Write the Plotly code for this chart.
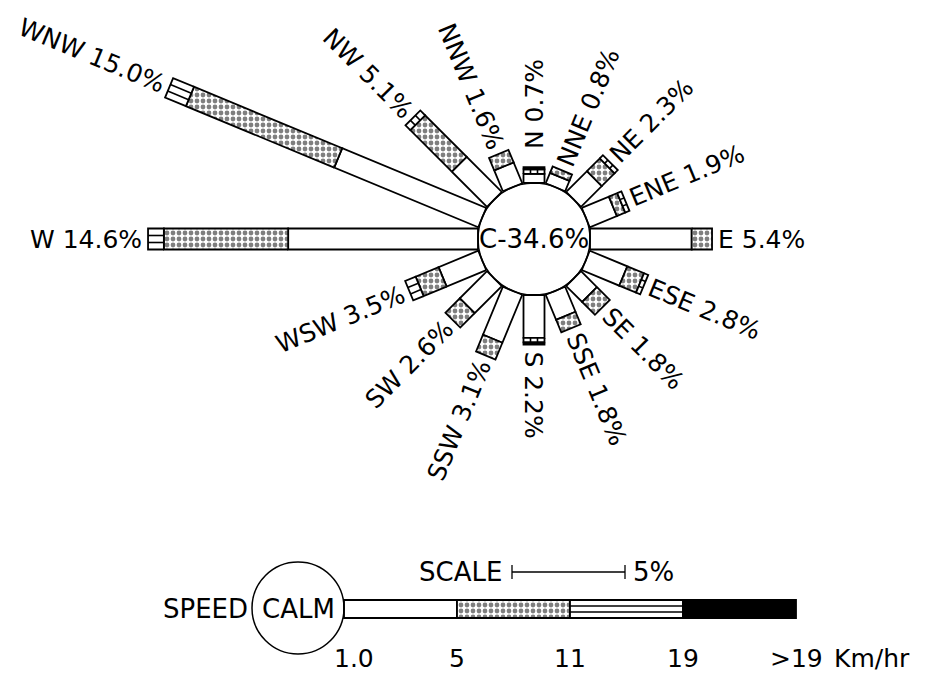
import numpy as np
import plotly.graph_objects as go

# ---------------- data ----------------
directions = ["N", "NNE", "NE", "ENE", "E", "ESE", "SE", "SSE",
              "S", "SSW", "SW", "WSW", "W", "WNW", "NW", "NNW"]
compass_deg = [0, 22.5, 45, 67.5, 90, 112.5, 135, 157.5,
               180, 202.5, 225, 247.5, 270, 292.5, 315, 337.5]
total_pct = [0.7, 0.8, 2.3, 1.9, 5.4, 2.8, 1.8, 1.8,
             2.2, 3.1, 2.6, 3.5, 14.6, 15.0, 5.1, 1.6]
# frequency (%) by speed class
spd_1_5 = [0.4, 0.5, 1.3, 1.3, 4.5, 1.8, 1.0, 1.2,
           1.9, 2.3, 1.7, 1.9, 8.4, 6.9, 2.2, 1.0]
spd_5_11 = [0.0, 0.3, 0.8, 0.4, 0.9, 0.8, 0.8, 0.6,
            0.0, 0.8, 0.9, 1.1, 5.5, 7.1, 2.6, 0.6]
spd_11_19 = [0.2, 0.0, 0.2, 0.2, 0.0, 0.2, 0.0, 0.0,
             0.2, 0.0, 0.0, 0.5, 0.7, 1.0, 0.3, 0.0]
spd_gt19 = [0.1, 0.0, 0.0, 0.0, 0.0, 0.0, 0.0, 0.0,
            0.1, 0.0, 0.0, 0.0, 0.0, 0.0, 0.0, 0.0]
calm_pct = 34.6
speed_ticks = ["1.0", "5", "11", "19", ">19"]
speed_unit = "Km/hr"
scale_pct = 5

# ---------------- geometry (1 data unit = 1 %) ----------------
OFF = 8                   # page body margin in the browser
W, H = 928 - OFF, 680 - OFF
PX = 22.6                 # pixels per percent
CX, CY = 534, 239         # rose centre in (screen) pixels
R = 56 / PX               # calm circle radius
HW = 10.5 / PX            # half bar width
FONT = "DejaVu Sans"
FS_LAB = 25
FS = 26

def ux(px):
    return (px - CX) / PX

def uy(py):
    return (CY - py) / PX

CHAR_W = {' ': 0.318, '.': 0.318, '%': 0.950, '-': 0.361, 'N': 0.748,
          'E': 0.632, 'S': 0.635, 'W': 0.989, 'C': 0.698}

def text_len(s, size):
    return sum(CHAR_W.get(c, 0.636) for c in s) * size

def seg_poly(theta, r0, r1, hw):
    u = np.array([np.cos(theta), np.sin(theta)])
    n = np.array([-np.sin(theta), np.cos(theta)])
    pts = [u * r0 + n * hw, u * r1 + n * hw, u * r1 - n * hw, u * r0 - n * hw, u * r0 + n * hw]
    return [p[0] for p in pts], [p[1] for p in pts]

classes = [("white", spd_1_5), ("dot", spd_5_11), ("stripe", spd_11_19), ("black", spd_gt19)]
polys = {k: ([], []) for k, _ in classes}
stripe_lines = ([], [])

for i, d in enumerate(directions):
    th = np.deg2rad(90 - compass_deg[i])
    r = R
    for key, arr in classes:
        v = arr[i]
        if v <= 0:
            continue
        xs, ys = seg_poly(th, r, r + v, HW)
        polys[key][0].extend(xs + [None])
        polys[key][1].extend(ys + [None])
        if key == "stripe":
            u = np.array([np.cos(th), np.sin(th)])
            n = np.array([-np.sin(th), np.cos(th)])
            for f in (-1 / 3, 1 / 3):
                a = u * r + n * HW * f
                b = u * (r + v) + n * HW * f
                stripe_lines[0].extend([a[0], b[0], None])
                stripe_lines[1].extend([a[1], b[1], None])
        r += v

# ---------------- legend bar ----------------
LEG_Y = uy(609)
LEG_HW = 9 / PX
CALM_C = (ux(298), uy(608))
CALM_R = 46 / PX
leg_start = CALM_C[0] + CALM_R
leg_keys = ["white", "dot", "stripe", "black"]
leg_bounds = [leg_start + scale_pct * k for k in range(5)]
for k, key in enumerate(leg_keys):
    x0, x1 = leg_bounds[k], leg_bounds[k + 1]
    polys[key][0].extend([x0, x1, x1, x0, x0, None])
    polys[key][1].extend([LEG_Y + LEG_HW, LEG_Y + LEG_HW, LEG_Y - LEG_HW, LEG_Y - LEG_HW, LEG_Y + LEG_HW, None])
    if key == "stripe":
        for f in (-1 / 3, 1 / 3):
            stripe_lines[0].extend([x0, x1, None])
            stripe_lines[1].extend([LEG_Y + LEG_HW * f, LEG_Y + LEG_HW * f, None])

fig = go.Figure()
LINE = dict(color="black", width=1.8)
fig.add_trace(go.Scatter(x=polys["white"][0], y=polys["white"][1], mode="lines", fill="toself",
                         fillcolor="white", line=LINE, hoverinfo="skip"))
fig.add_trace(go.Scatter(x=polys["dot"][0], y=polys["dot"][1], mode="lines", fill="toself",
                         fillcolor="white", line=LINE, hoverinfo="skip",
                         fillpattern=dict(shape=".", fgcolor="black", bgcolor="white",
                                          size=6, solidity=0.5)))
fig.add_trace(go.Scatter(x=polys["stripe"][0], y=polys["stripe"][1], mode="lines", fill="toself",
                         fillcolor="white", line=LINE, hoverinfo="skip"))
fig.add_trace(go.Scatter(x=stripe_lines[0], y=stripe_lines[1], mode="lines",
                         line=dict(color="black", width=1.6), hoverinfo="skip"))
fig.add_trace(go.Scatter(x=polys["black"][0], y=polys["black"][1], mode="lines", fill="toself",
                         fillcolor="black", line=LINE, hoverinfo="skip"))

# scale bar
SC_Y = uy(572)
sc_x0 = ux(512)
sc_x1 = sc_x0 + scale_pct
tk = 7 / PX
fig.add_trace(go.Scatter(x=[sc_x0, sc_x1, None, sc_x0, sc_x0, None, sc_x1, sc_x1],
                         y=[SC_Y, SC_Y, None, SC_Y - tk, SC_Y + tk, None, SC_Y - tk, SC_Y + tk],
                         mode="lines", line=dict(color="black", width=1.3), hoverinfo="skip"))

shapes = [
    dict(type="circle", xref="x", yref="y", x0=-R, x1=R, y0=-R, y1=R,
         line=dict(color="black", width=1.5), fillcolor="rgba(0,0,0,0)"),
    dict(type="circle", xref="x", yref="y", x0=CALM_C[0] - CALM_R, x1=CALM_C[0] + CALM_R,
         y0=CALM_C[1] - CALM_R, y1=CALM_C[1] + CALM_R,
         line=dict(color="black", width=1.5), fillcolor="rgba(0,0,0,0)"),
]

ann = []
font = dict(family=FONT, size=FS, color="black")
font_lab = dict(family=FONT, size=FS_LAB, color="black")
ann.append(dict(x=0, y=0, text=f"C-{calm_pct:.1f}%", showarrow=False, font=font,
                xanchor="center", yanchor="middle"))

GAP = 6 / PX
EXTRA_GAP = {"N": 12 / PX}
for i, d in enumerate(directions):
    th_deg = 90 - compass_deg[i]
    th = np.deg2rad(th_deg)
    label = f"{d} {total_pct[i]:.1f}%"
    L = text_len(label, FS_LAB) / PX
    rc = R + total_pct[i] + GAP + EXTRA_GAP.get(d, 0) + L / 2
    if 0 <= compass_deg[i] <= 180:
        ang = -th_deg
    else:
        ang = 180 - th_deg
    ann.append(dict(x=rc * np.cos(th), y=rc * np.sin(th), text=label, showarrow=False,
                    font=font_lab, textangle=ang, xanchor="center", yanchor="middle"))

# legend texts
ann.append(dict(x=CALM_C[0] - CALM_R - 2 / PX, y=LEG_Y, text="SPEED", showarrow=False, font=font,
                xanchor="right", yanchor="middle"))
ann.append(dict(x=CALM_C[0], y=LEG_Y, text="CALM", showarrow=False, font=font,
                xanchor="center", yanchor="middle"))
TICK_Y = uy(658)
for k, t in enumerate(speed_ticks):
    xoff = 10 / PX if k == 0 else 0
    ann.append(dict(x=leg_bounds[k] + xoff, y=TICK_Y, text=t, showarrow=False, font=font_lab,
                    xanchor="center", yanchor="middle"))
ann.append(dict(x=ux(872), y=TICK_Y, text=speed_unit, showarrow=False, font=font_lab,
                xanchor="center", yanchor="middle"))
ann.append(dict(x=sc_x0 - 8 / PX, y=SC_Y, text="SCALE", showarrow=False, font=font,
                xanchor="right", yanchor="middle"))
ann.append(dict(x=sc_x1 + 6 / PX, y=SC_Y, text=f"{scale_pct}%", showarrow=False, font=font,
                xanchor="left", yanchor="middle"))

fig.update_layout(
    width=W, height=H, margin=dict(l=0, r=0, t=0, b=0),
    paper_bgcolor="white", plot_bgcolor="white", showlegend=False,
    xaxis=dict(range=[ux(OFF), ux(OFF + W)], visible=False, fixedrange=True),
    yaxis=dict(range=[uy(OFF + H), uy(OFF)], visible=False, fixedrange=True),
    shapes=shapes, annotations=ann,
)
fig.write_html("out.html")
